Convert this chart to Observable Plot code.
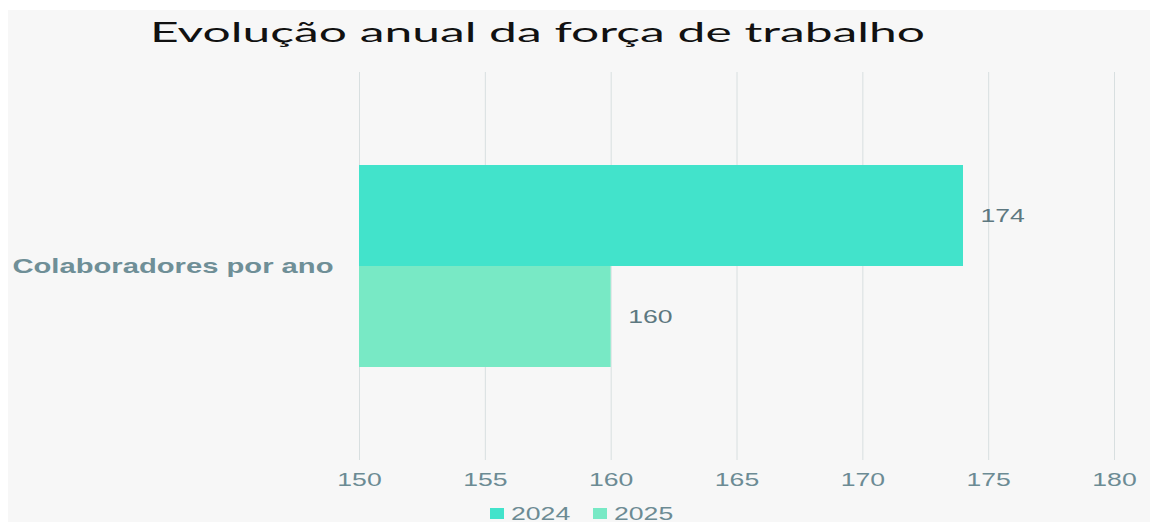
<!DOCTYPE html>
<html><head><meta charset="utf-8">
<script src="https://cdn.jsdelivr.net/npm/d3@7"></script>
<script src="https://cdn.jsdelivr.net/npm/@observablehq/plot@0.6"></script>
<style>
body{margin:0;width:1150px;height:522px;overflow:hidden;background:#fff;font-family:"Liberation Sans",Arial,sans-serif;position:relative;}
#bg{position:absolute;left:8px;top:10px;width:1142px;height:512px;background:#f7f7f7;}
#title{position:absolute;left:150px;top:19px;font-family:Lato,sans-serif;font-size:26px;line-height:26px;color:#111;white-space:nowrap;transform-origin:0 50%;display:inline-block;}
#chart{position:absolute;left:0;top:60px;}
#legend{position:absolute;left:490px;top:505px;height:17px;display:flex;align-items:center;font-size:19px;color:#6c8b94;line-height:17px;}
#legend .sw{display:inline-block;width:14px;height:11px;margin-right:7px;}
#legend .lb{display:inline-block;transform-origin:0 50%;}
</style></head>
<body>
<div id="bg"></div>
<div id="title">Evolução anual da força de trabalho</div>
<div id="chart"></div>
<div id="legend"></div>
<script>
const categories = ["Colaboradores por ano"];
const years = ["2024", "2025"];
const values2024 = [174];
const values2025 = [160];
const xDomain = [150, 180];
const xTicks = [150, 155, 160, 165, 170, 175, 180];
const colors = ["#42e3cb", "#78e9c5"];

const data = [];
categories.forEach((c, i) => {
  data.push({category: c, year: years[0], value: values2024[i]});
  data.push({category: c, year: years[1], value: values2025[i]});
});

const STRETCH = 1.4;
const LABEL_STRETCH = 1.46;

const chart = Plot.plot({
  width: 1150, height: 440,
  marginTop: 12, marginBottom: 40, marginLeft: 359, marginRight: 36,
  style: {background: "transparent", fontFamily: "Liberation Sans, Arial, sans-serif", fontSize: "19px", color: "#6c8b94", overflow: "visible"},
  x: {domain: xDomain, ticks: xTicks},
  fy: {domain: categories, padding: 0},
  y: {domain: years, paddingInner: 0, paddingOuter: 0.911, axis: null},
  color: {domain: years, range: colors},
  marks: [
    Plot.gridX(xTicks, {stroke: "#d8dfe0", strokeOpacity: 1, strokeWidth: 1}),
    Plot.barX(data, {fy: "category", y: "year", x1: () => xDomain[0], x2: "value", fill: "year"}),
    Plot.text(data, {fy: "category", y: "year", x: "value", text: d => String(d.value), textAnchor: "start", dx: 17, fill: "#5d7880", fontSize: 19}),
    Plot.axisX({ticks: xTicks, tickSize: 0, tickPadding: 12, label: null, fill: "#6c8b94", fontSize: 19}),
    Plot.axisFy({anchor: "left", tickSize: 0, tickPadding: 26, label: null, fill: "#6f8f97", fontSize: 20, fontWeight: "bold"})
  ]
});
document.getElementById("chart").appendChild(chart);

// horizontal stretch of glyphs, as in the reference
const fyTexts = new Set(chart.querySelectorAll('g[aria-label="fy-axis tick label"] text'));
chart.querySelectorAll("text").forEach(t => {
  const tr = t.getAttribute("transform");
  const k = fyTexts.has(t) ? LABEL_STRETCH : STRETCH;
  if (tr) t.setAttribute("transform", tr + ` scale(${k},1)`);
});
fyTexts.forEach(t => t.setAttribute("font-weight", "bold"));

// legend
const lg = document.getElementById("legend");
years.forEach((y, i) => {
  const sw = document.createElement("span"); sw.className = "sw"; sw.style.background = colors[i];
  const lb = document.createElement("span"); lb.className = "lb"; lb.textContent = y;
  lb.style.transform = `scaleX(${STRETCH})`;
  lb.style.marginRight = i === 0 ? "40px" : "0";
  lg.appendChild(sw); lg.appendChild(lb);
});

// title stretched to its reference width
const ti = document.getElementById("title");
const w = ti.getBoundingClientRect().width;
ti.style.transform = `scaleX(${775 / w})`;
</script>
</body></html>
